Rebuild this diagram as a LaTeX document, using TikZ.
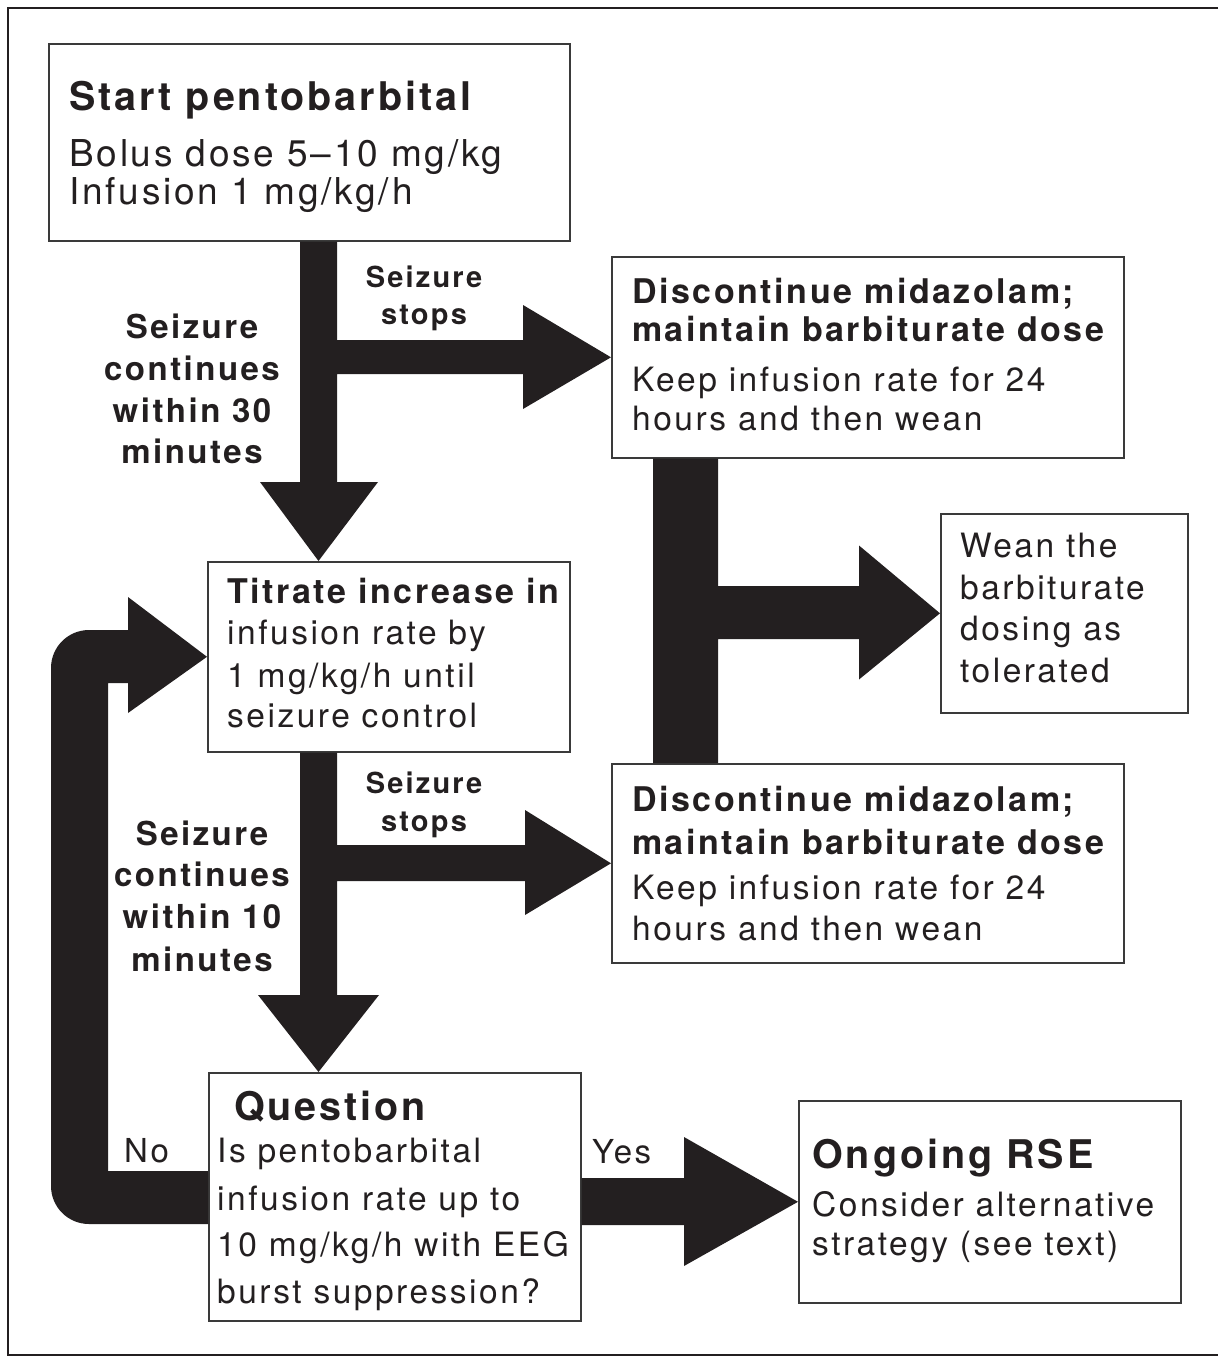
\documentclass[tikz,border=0pt]{standalone}
\usepackage{fontspec}
\setmainfont{TeX Gyre Heros}[LetterSpace=7.5]
\usetikzlibrary{calc}
\definecolor{ink}{HTML}{231F20}
\definecolor{boxline}{HTML}{3A3A3A}
\newcommand\ftitle{\bfseries\fontsize{39.5}{46}\selectfont}
\newcommand\fhead{\bfseries\fontsize{34}{40}\selectfont}
\newcommand\fbody{\fontsize{33.5}{40}\selectfont}
\newcommand\fbig{\fontsize{37}{43}\selectfont}
\newcommand\flabel{\bfseries\fontsize{33}{40}\selectfont}
\newcommand\fsmall{\bfseries\fontsize{29}{36}\selectfont}
\newcommand\fyn{\fontsize{33}{40}\selectfont}
\tikzset{
  x=1pt, y=1pt,
  stepbox/.style={draw=boxline, line width=1.6pt, inner sep=0pt, anchor=north west},
  txt/.style={anchor=base west, inner sep=0pt, text=ink},
  ctxt/.style={anchor=base, inner sep=0pt, text=ink},
  fat/.style={fill=ink, draw=none},
}
\begin{document}
\begin{tikzpicture}
\useasboundingbox (0,0) rectangle (1218,-1357);
% outer frame (open on the right)
\draw[line width=2.5pt, ink] (1218,-8) -- (8,-8) -- (8,-1355) -- (1218,-1355);

% boxes
\node[stepbox, minimum width=521pt, minimum height=197pt] (start) at (48,-43) {};
\node[stepbox, minimum width=512pt, minimum height=201pt] (D1) at (611,-256) {};
\node[stepbox, minimum width=362pt, minimum height=190pt] (titrate) at (207,-561) {};
\node[stepbox, minimum width=247pt, minimum height=199pt] (wean) at (940,-513) {};
\node[stepbox, minimum width=512pt, minimum height=199pt] (D2) at (611,-763) {};
\node[stepbox, minimum width=372pt, minimum height=248pt] (question) at (208,-1072) {};
\node[stepbox, minimum width=382pt, minimum height=202pt] (rse) at (798,-1100) {};

% start -> titrate, branch -> D1
\fill[fat] (300,0 |- start.south) -- (300,-482) -- (260,-482) -- (318.5,0 |- titrate.north)
  -- (378,-482) -- (337,-482) -- (337,-374) -- (523,-374) -- (523,-409) -- (D1.west)
  -- (523,-305) -- (523,-340) -- (337,-340) -- (337,0 |- start.south) -- cycle;

% titrate -> question, branch -> D2
\fill[fat] (300,0 |- titrate.south) -- (300,-995) -- (258,-995) -- (318.5,0 |- question.north)
  -- (379,-995) -- (337,-995) -- (337,-881) -- (525,-881) -- (525,-915) -- (D2.west)
  -- (525,-810) -- (525,-845) -- (337,-845) -- (337,0 |- titrate.south) -- cycle;

% D1 -- D2 bar, branch -> wean
\fill[fat] (653,0 |- D1.south) -- (653,0 |- D2.north) -- (718,0 |- D2.north) -- (718,-639)
  -- (859,-639) -- (859,-679.5) -- (wean.west) -- (859,-545.5) -- (859,-586) -- (718,-586)
  -- (718,0 |- D1.south) -- cycle;

% question -> ongoing RSE
\fill[fat] (question.east |- 0,-1178) -- (684,-1178) -- (684,-1137) -- (rse.west)
  -- (684,-1266) -- (684,-1225) -- (question.east |- 0,-1225) -- cycle;

% loop back: question -> titrate
\fill[fat] (question.west |- 0,-1171) -- (108,-1171) -- (108,-683) -- (128,-683) -- (128,-713)
  -- (titrate.west) -- (128,-597) -- (128,-630) -- (89,-630)
  arc[start angle=90, end angle=180, radius=38] -- (51,-1186)
  arc[start angle=180, end angle=270, radius=38] -- (question.west |- 0,-1224) -- cycle;

% texts: start
\node[txt, font=\ftitle] (start-t) at (69,-110) {Start pentobarbital};
\node[txt, font=\fbig] (start-1) at (69,-166) {Bolus dose 5–10 mg/kg};
\node[txt, font=\fbig] (start-2) at (69,-204) {Infusion 1 mg/kg/h};

% branch labels, first junction
\node[ctxt, font=\fsmall] (stopA-1) at (424,-287) {Seizure};
\node[ctxt, font=\fsmall] (stopA-2) at (424,-324) {stops};
\node[ctxt, font=\flabel] (contA-1) at (192,-338) {Seizure};
\node[ctxt, font=\flabel] (contA-2) at (192,-380) {continues};
\node[ctxt, font=\flabel] (contA-3) at (192,-422) {within 30};
\node[ctxt, font=\flabel] (contA-4) at (192,-463) {minutes};

% D1
\node[txt, font=\fhead] (D1-t1) at (632,-303) {Discontinue midazolam;};
\node[txt, font=\fhead] (D1-t2) at (632,-341) {maintain barbiturate dose};
\node[txt, font=\fbody] (D1-1) at (632,-391) {Keep infusion rate for 24};
\node[txt, font=\fbody] (D1-2) at (632,-430) {hours and then wean};

% titrate
\node[txt, font=\fhead] (tit-t) at (227,-603) {Titrate increase in};
\node[txt, font=\fbody] (tit-1) at (227,-644) {infusion rate by};
\node[txt, font=\fbody] (tit-2) at (227,-687) {1 mg/kg/h until};
\node[txt, font=\fbody] (tit-3) at (227,-727) {seizure control};

% wean
\node[txt, font=\fbody] (wean-1) at (960,-557) {Wean the};
\node[txt, font=\fbody] (wean-2) at (960,-599) {barbiturate};
\node[txt, font=\fbody] (wean-3) at (960,-640) {dosing as};
\node[txt, font=\fbody] (wean-4) at (960,-682) {tolerated};

% D2
\node[txt, font=\fhead] (D2-t1) at (632,-811) {Discontinue midazolam;};
\node[txt, font=\fhead] (D2-t2) at (632,-854) {maintain barbiturate dose};
\node[txt, font=\fbody] (D2-1) at (632,-899) {Keep infusion rate for 24};
\node[txt, font=\fbody] (D2-2) at (632,-940) {hours and then wean};

% branch labels, second junction
\node[ctxt, font=\fsmall] (stopB-1) at (424,-793) {Seizure};
\node[ctxt, font=\fsmall] (stopB-2) at (424,-831) {stops};
\node[ctxt, font=\flabel] (contB-1) at (202,-845) {Seizure};
\node[ctxt, font=\flabel] (contB-2) at (202,-886) {continues};
\node[ctxt, font=\flabel] (contB-3) at (202,-928) {within 10};
\node[ctxt, font=\flabel] (contB-4) at (202,-971) {minutes};

% question
\node[txt, font=\ftitle] (q-t) at (234,-1120) {Question};
\node[txt, font=\fbody] (q-1) at (217,-1162) {Is pentobarbital};
\node[txt, font=\fbody] (q-2) at (217,-1210) {infusion rate up to};
\node[txt, font=\fbody] (q-3) at (217,-1256) {10 mg/kg/h with EEG};
\node[txt, font=\fbody] (q-4) at (217,-1303) {burst suppression?};
\node[txt, font=\fyn] (no) at (124,-1162) {No};
\node[txt, font=\fyn] (yes) at (592,-1163) {Yes};

% ongoing RSE
\node[txt, font=\ftitle] (rse-t) at (812,-1168) {Ongoing RSE};
\node[txt, font=\fbody] (rse-1) at (812,-1216) {Consider alternative};
\node[txt, font=\fbody] (rse-2) at (812,-1255) {strategy (see text)};
\end{tikzpicture}
\end{document}
